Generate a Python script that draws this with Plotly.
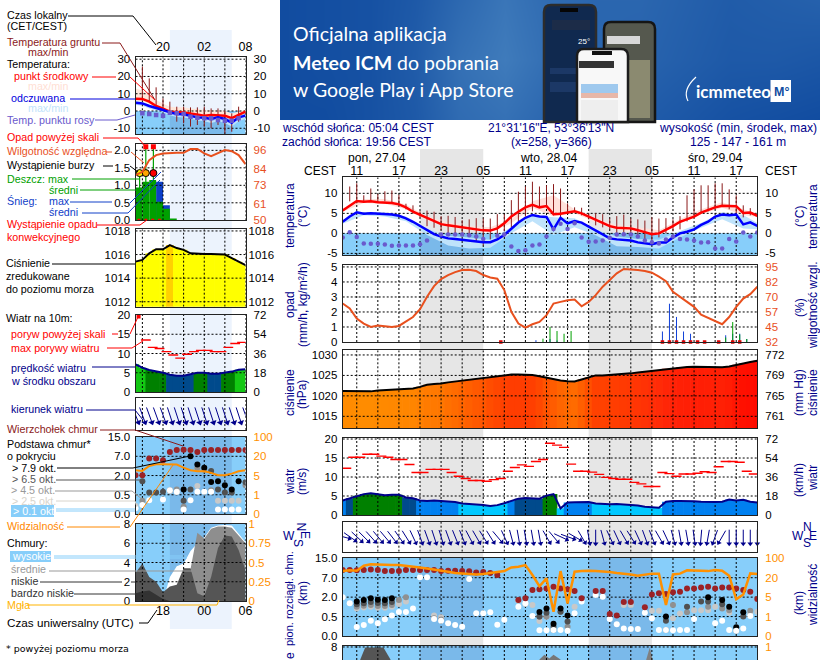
import math
import plotly.graph_objects as go

W, H = 820, 660

# hours counted from 27.04 00:00 local time
hours_l = list(range(16, 33))
hours_r = list(range(9, 69))
ticks_l = [17, 20, 23, 26, 29, 32]
ticks_r = list(range(11, 68, 3))
night_l = [21, 30]
nights_r = [[20, 29], [44, 53]]

local_text_l = {20: "20", 26: "02", 32: "08"}
utc_text_l = {20: "18", 26: "00", 32: "06"}
local_text_r = {11: "11", 17: "17", 23: "23", 29: "05", 35: "11", 41: "17", 47: "23", 53: "05", 59: "11", 65: "17"}

# ---------- small meteogram (left) ----------
temp_mid_l = [7.1, 7, 5.4, 2.9, 1.35, -.4, -.6, -.8, -1.5, -2.3, -2.7, -2.3, -2.7, -2.7, -4.2, -2.3, -.4]
temp_felt_l = [4.8, 4.4, 2.9, 1.9, .6, -.8, -1.7, -1.9, -2.9, -3.7, -3.9, -4.6, -3.7, -4.6, -6.8, -3.7, -2.7]
temp_mid_hi_l = [13, 11.8, 9.3, 6.4, 4.4, 2.5, 2.2, 2.1, 1.5, 1.2, .6, .6, .6, .2, -1.4, -.4, .6]
temp_mid_lo_l = [6, 5.8, 4.2, 1.9, .4, -1.2, -1.5, -1.7, -2.4, -3.2, -3.6, -3.4, -3.6, -3.6, -5.2, -3.4, -1.2]
temp_felt_hi_l = [6, 5.4, 3.8, 2.6, 1.2, 0, -1, -1.2, -2.2, -3, -3.2, -3.8, -3, -3.8, -6, -3, -2]
temp_felt_lo_l = [3.5, 3, 1.5, 0, -1, -2.5, -3.5, -3.8, -4.5, -5.5, -6, -7, -6, -7, -9, -6, -4.5]
dew_l = [None, -1.35, -1.75, -2.3, -2.7, -1, -1.35, -1.75, -3.3, -3.9, -4.2, -4.2, -5.2, -5.6, -5.6, -4.2, None]
ground_hi_l = [None, 25.7, 18.9, 13.7, 7.3, 5.4, 2.5, 2.5, 2.1, 2.1, 2.5, 1.5, 1.5, .2, -1.4, 2.5, 0]
ground_lo_l = [None, 6.4, 5.4, 3.5, .6, -2.3, -6.2, -7.1, -9, -8.1, -9, -10, -8.1, -13, -12, -6.2, -2.3]

rain_hours_l = [16, 17, 18, 19, 20, 21]
rain_mean_l = [.94, 1.1, 1.15, .53, .33, .05]
snow_mean_l = [0, 0, 0, 1.1, .43, 0]
rain_max_hours_l = [16.6, 17.5, 18.6]
rain_max_l = [1.35, 2.1, 2.1]
storm_hours_l = [16.6, 17.5, 18.6]
storm_level_l = [1.35, 1.35, 1.35]
over_scale_hours_l = [17.5, 18.6]
over_scale_l = [2.1, 2.1]
convective_hours_l = [16.5, 17.5, 18.5, 19.5]
humidity_l = [79.7, 81.9, 89.6, 92.9, 94, 94.4, 94.4, 94.4, 96.9, 96.9, 94, 92.2, 94, 96.2, 95.5, 92.9, 87]

pressure_l = [1015.4, 1015.55, 1016.1, 1016.45, 1016.45, 1016.8, 1016.55, 1016.4, 1016.1, 1016.05, 1016.05, 1016.05, 1016.05, 1016, 1015.7, 1015.4, 1015.1]

wind_l = [7.2, 6.3, 5.7, 5.4, 5, 4.5, 4.25, 4.25, 4.6, 5, 5, 4.75, 4.75, 5, 5.3, 5.8, 5.9]
gust_l = [None, 13.5, 11.6, 11.3, 10.5, 9.6, 8.8, 9.8, 10.5, 10.8, 10.8, 10.5, 10.5, 11.6, 12.6, 12.9]
gust_over_hours_l = [16.45]
gust_over_l = [19.6]
wind_dir_l = [338, 340, 340, 340, 340, 342, 342, 342, 342, 342, 342, 342, 342, 342, 342, 342, 340]

cloud_top_l = [2.02, 2.02, 2.88, 2.88, 2.8, 3.22, 3.33, 3.34, 3.33, 3.22, 3.33, 3.33, 3.33, 3.33, 3.33, 3.33, 3.33]
visibility_l = [2.28, 2.24, 2.5, 2.59, 2.59, 2.59, 2.57, 2.41, 2.28, 2.22, 2.22, 2.14, 2.02, 2.02, 2.1, 2.22, 2.28]
base_white_h_l = [16, 17, 18, 20, 21, 22, 23, 24, 25, 26, 27, 28, 29, 30, 31]
base_white_l = [.3, .47, .72, .76, 1.24, 1.16, .24, .72, 1.16, 1.16, 1.16, .24, .24, .24, .24]
base_light_h_l = [16, 21, 22, 25, 28, 29, 30, 31]
base_light_l = [.41, 1.2, 1.15, 1.46, .69, .69, .69, .69]
base_grey_h_l = [17, 21, 22, 23, 25, 26, 27, 32]
base_grey_l = [.69, 1.24, 1.28, .38, 2.4, 2.3, 1.24, 1.5]
base_dark_h_l = [17, 18, 19, 20, 23, 24, 27, 28, 29, 30, 32]
base_dark_l = [1.7, 1.12, 1.12, 1.16, .69, 1.28, 2.24, 1.28, 1.12, 1.12, 1.65]
base_black_h_l = [23, 24, 25, 26, 27, 28, 29, 30, 31]
base_black_l = [1.28, 3.0, 2.57, 2.41, 1.67, 1.7, 1.5, 1.28, 1.7]

cloud_high_l = [0, 0, 0, 0, 0, 2.5, 3.6, 3.9, 5.2, 6.0, 6.6, 7.6, 7.85, 7.9, 7.85, 7, 6.1]
cloud_mid_l = [0, 0, 0, 0, 0, 0, 0, 3.3, 3.3, 7.1, 6.5, 7.5, 7.75, 7.75, 7.6, 6.8, 6.0]
cloud_low_l = [2.9, 3.9, 2.5, 2, .9, 1.5, 1.7, 3.4, 3.4, .8, .5, 2.5, 5.5, 6.8, 6.7, 5.3, 3.2]
cloud_vlow_l = [.8, 1, 1.1, .65, .2, 0, 0, 0, 0, 0, 0, 0, 0, 0, 0, 0, 0]
fog_hours_l = [28, 29, 30, 31]
fog_l = [.14, .14, .14, .14]

# ---------- big meteogram (right) ----------
temp_mid_r = [5.7, 6.8, 8.1, 7.9, 8.0, 7.8, 7.75, 7.6, 7.25, 6.5, 5.4, 4.6, 3.7, 3.0, 2.3, 2.0, 1.75, 1.4, 1.2, .9, .75, .7, 1.25, 2.5, 4.2, 5.4, 6.5, 7.1, 6.5, 6.8,
              4.8, 4.9, 5.2, 5.5, 5, 4.2, 3.3, 2.5, 1.8, 1.4, 1.25, 1.25, .8, .3, -.2, 0, .8, 1.8, 2.9, 3.6, 4.2, 5.2, 5.8, 6.5, 6.9, 6.9, 6.8, 5.1, 5.2, 4.4]
temp_felt_r = [2.9, 4.2, 5.25, 4.9, 5, 4.9, 4.8, 4.7, 4.4, 3.75, 2.9, 1.8, .8, -.2, -.8, -1.25, -1.4, -1.6, -1.9, -2.1, -2.2, -2.2, -1.5, -.4, 1.25, 2.7, 3.9, 4.6, 4.2, 4.1,
               1, 3.9, 2.5, 3.1, 2.7, 1.7, .6, -.4, -1.25, -1.5, -1.7, -1.8, -2.25, -2.5, -2.7, -2.3, -2.3, -1, 0, .4, 1, 2.1, 2.9, 4.2, 4.7, 4.5, 4.7, 2.25, 2.75, 1.9]
band_hours_r = [9, 12, 15, 18, 21, 24, 27, 30, 33, 36, 39, 42, 45, 48, 51, 54, 57, 60, 63, 66, 68]
temp_mid_hi_r = [6.2, 8.6, 8.6, 7.2, 4.2, 2.7, 1.8, 1.5, 3.5, 8, 9.5, 6, 3.8, 2, 1.5, .8, 3.5, 6, 7.8, 6, 4.8]
temp_mid_lo_r = [5.4, 7.6, 7.4, 6, 3.2, 1.6, .8, .4, 2.5, 6.4, 4.2, 5, 2.8, .9, .4, -.5, 2.5, 4.8, 6.4, 4.6, 4]
temp_felt_hi_r = [3.4, 5.3, 5.2, 4.2, 1.2, -.6, -1, -1.6, 1.6, 4.6, 4, 3.8, 1, -.8, -1.4, -1.6, .6, 2.6, 5.3, 4.6, 2.6]
temp_felt_lo_r = [2.4, 4.5, 4.2, 3, -.4, -3, -3.8, -3.6, 0, 3, -.4, 1.5, -.5, -3.2, -3.4, -3.8, -1, 1.4, 3.5, 1.2, 1]
dew_r = [-1, .3, -.9, -2.5, -2.6, -2.6, -2.8, -3.1, -3, -3, -3, -2.7, -1.75, None, -.3, -.3, -.3, -.3, -.5, -.8, -1.4, None, -.6, -.3, -3.25, -4.4, -4.2, -3, -2.8, -.8,
         1.1, 2.4, 1.1, 2.5, -1, -2.1, -2, -1.8, -1.1, -.3, -.25, -.3, -.8, -1.8, -2.2, -2.5, -1.5, -.8, -1.4, -1.5, -1.8, -2.3, -2.2, -3.75, -3.8, -1.4, -2, .2, -.8, .2]
ground_hours_r = list(range(10, 68))
ground_hi_r = [11.7, 12.5, 9.5, 11.2, 9.8, 10.5, 10.7, 9.6, 7.4, 7, 5.5, 5.7, 5.4, 4.3, 4.4, 4.1, 3.3, 3.5, 3.8, 3.7, 3.7, 4.8, 4.8, 8.3, 10.4, 11.7, 12.9, 11.7, 12,
               12.3, 11.2, 7.5, 6.5, 6.4, 5, 5, 4.8, 3.7, 4.3, 4.7, 3.7, 3.5, 3.2, 4, 3.7, 3.8, 3.5, 4.3, 9.5, 11, 12, 12, 12.5, 12.5, 11, 9.5, 7, 6.3]
ground_lo_r = [8, 7.5, 8, 8, 8, 8, 7.6, 7.2, 6, 4.9, 4, 1.8, 1.4, .8, -.5, -.5, -.7, -.8, -2, -3, -1.5, -.5, .5, 1.5, 3, 4.2, 5.5, 6.5, 6.8,
               4.5, 4, 5, 5.5, 4.5, 3.5, 2, 1.5, 1, -.5, -.5, -.5, -1, -1.5, -2.5, -1, 0, .5, 1, 3, 4, 5, 5.5, 6, 7, 6, 5, 4, 4.5]

humidity_r = [64.3, 60.1, 51.7, 47.5, 44.6, 45.8, 45.2, 44.6, 45.5, 48.9, 53, 59.5, 70, 78.9, 84.8, 88.2, 90.7, 92.4, 92.7, 91.6, 88.2, 86.2, 85.1, 75.6, 57.3, 47.5, 44, 46.9, 48.9, 54.5,
              64.3, 65.7, 67.1, 67.7, 62, 65.7, 71.3, 78.4, 84, 89.6, 93.3, 93, 92.4, 91.6, 90.2, 86.8, 83.1, 74.2, 69.9, 66.3, 61.5, 55, 52.5, 49.4, 46.9, 53, 61.5, 68.5, 72.2, 78.4]
snow_hours_r = [36.5, 38.5, 39.5, 54.5, 55.5, 56.5, 57.5, 58.5, 63.5, 64.5, 65.5, 66.5]
snow_max_r = [.12, .2, .1, .7, 2.55, 1.67, .7, .55, .45, .55, .55, .2]
rain_hours_r = [37.5, 38.5, 39.5, 40.5, 41.5, 63.5, 64.5, 65.5, 66.5]
rain_max_r = [.22, 1.0, .73, .55, .73, .3, 1.33, .5, .2]
convective_hours_r = [31.5, 54.5, 55.5, 56.5, 57.5, 58.5, 59.5, 60.5, 62.5, 64.5, 65.5]
convective_level_r = [0] * 11

pressure_r = [1021.2, 1021.2, 1021.1, 1021.1, 1021.1, 1021.3, 1021.4, 1021.5, 1021.55, 1021.7, 1021.8, 1022.2, 1022.7, 1022.9, 1023, 1023.3, 1023.5, 1023.75, 1024, 1024.2, 1024.3, 1024.6, 1024.8, 1025, 1025.2, 1025.2, 1025.2, 1025.1, 1024.8, 1024.4,
              1024.1, 1023.75, 1023.6, 1023.5, 1024, 1024.5, 1025, 1025, 1025.1, 1025.2, 1025.4, 1025.5, 1025.7, 1025.9, 1026.1, 1026.3, 1026.6, 1026.8, 1027, 1027.05, 1027.1, 1027.1, 1027.05, 1027, 1027, 1027.2, 1027.6, 1028, 1028.3, 1028.6]

wind_r = [3.8, 4.4, 5.1, 5.5, 5.7, 5.5, 5.2, 5.3, 5.3, 4.6, 4.4, 3.8, 3.7, 3.8, 3.7, 3.5, 3.4, 3, 2.9, 2.7, 2.6, 2.4, 2.6, 3.1, 3.7, 4.3, 4.5, 4.4, 4.3, 5.1,
          5.5, 1.75, 3.3, 3.35, 3.4, 3.4, 3.0, 2.9, 2.8, 2.9, 2.8, 2.7, 2.5, 2.2, 2.1, 1.9, 3.5, 3.7, 3.7, 3.7, 3.6, 3.5, 3.4, 3.4, 3.5, 4.1, 3.8, 4, 3.5, 3.3]
gust_r = [12.3, 15.2, 15.2, 16, 16, 15.5, 15.2, 14.6, 14.6, 13.3, 11.2, 11.2, 12, 12, 12, 11.2, 10.2, 9.6, 9.1, 9.1, 8.9, 9.3, 9.6, 11.5, 12.5, 13.2, 12.8, 14.1, 14.6, 18.9,
          18.4, 17.8, 13.4, 11.5, 11.5, 11.3, 10.7, 9.9, 9.6, 9.4, 9.4, 8.6, 8.2, 7.5, 7.5, 11.2, 10.9, 10.2, 10.8, 10.8, 11, 11.4, 11.2, 12.7, 14.1, 14.1, 13.9, 11.5, 10.8]
wind_dir_r = [285, 305, 313, 315, 318, 320, 320, 322, 325, 328, 335, 340, 340, 342, 343, 340, 338, 338, 332, 330, 328, 328, 320, 335, 345, 350, 350, 350, 350, 330,
              320, 295, 290, 300, 330, 350, 0, 345, 335, 335, 330, 328, 335, 340, 338, 330, 335, 345, 350, 350, 352, 5, 10, 20, 30, 0, 0, 0, 0, 0]

cloud_top_r = [3.4, 3.4, 3.38, 3.4, 3.42, 3.4, 3.34, 3.34, 3.34, 3.4, 3.4, 3.4, 3.4, 3.4, 3.34, 3.36, 3.36, 3.34, 3.33, 3.27, 3.29, 3.24, 3.14,
               None, None, 1.85, 1.94, 2.37, 2.4, 2.45, 2.54, 2.45, 2.4, 2.32, 1.94, None, 2.32, 2.32, 1.13, 1.05, 1.75, 1.75, None,
               1.48, 2.13, 2.2, 2.16, 2.25, 2.28, 2.44, 2.44, 2.5, 2.54, 2.45, 2.5, 2.5, 2.45, 2.37, 2.28, 1.9]
visibility_r = [3.34, 3.38, 3.36, 3.62, 3.69, 3.67, 3.65, 3.65, 3.65, 3.62, 3.58, 3.53, 3.48, 3.43, 3.36, 3.31, 3.24, 3.21, 3.17, 3.17, 3.19, 3.24, 3.28, 3.34, 3.53, 3.57, 3.65, 3.14, 2.56, 2.97,
                1.25, 3.34, 1.68, 3.31, 3.34, 3.36, 3.34, 3.33, 3.29, 3.24, 3.21, 3.16, 3.1, 3.14, 3.21, 3.21, 1.6, 3.17, 3.21, 3.38, 3.36, 3.34, 3.34, 3.4, 3.36, 3.1, 1.89, 2.14, 3.22, 3.19]
base_white_r = [2.0, 1.68, .46, .57, .79, .65, .86, 1.06, 1.23, 1.23, 1.42, 3.02, 3.02, .87, .79, .65, .57, .48, 2.93, 1.17, 1.17, 1.22, .58, .84, None, 1.51, 1.68, 1.03, .29, .29,
                .31, .31, .27, 1.17, 1.77, None, 2.11, 2.02, .87, .6, .39, .36, .36, 1.2, .91, .31, .31, .29, .31, .31, .87, None, None, .65, .79, .31, .27, .39, 1.03, None]
base_light_h_r = [11, 12, 13, 14, 15, 16, 17, 18, 22, 23, 34, 35, 36, 37, 38, 42, 49, 50, 53, 54, 56, 57, 59, 60, 61, 62, 64, 67, 68]
base_light_r = [1.42, 1.47, 1.5, 1.45, 1.45, 1.5, 1.65, 1.77, 1.05, .97, 1.82, 1.65, 1.6, .77, .99, 1.51, 1.6, 1.6, 1.3, 1.3, .91, 1.16, 1.33, 1.33, 1.33, 1.51, 1.2, 1.16, 1.25]
base_grey_h_r = [11, 12, 13, 14, 15, 16, 17, 18, 22, 23, 37, 38, 39, 40, 41, 55, 56, 58, 61, 63, 64, 65, 67]
base_grey_r = [1.51, 1.56, 1.6, 1.55, 1.55, 1.6, 1.85, 1.99, .91, .85, .99, 1.0, .31, 1.25, .48, .31, 1.6, 1.22, 1.51, 1.42, 1.33, .27, 1.3]
base_dark_h_r = [11, 12, 13, 14, 15, 16, 37, 38, 39, 40, 41, 55, 58, 60, 61, 63, 66]
base_dark_r = [1.63, 1.68, 1.75, 1.7, 1.68, 1.75, 1.0, 1.2, .48, 1.25, .74, .79, 1.5, 1.77, 1.77, 1.63, 1.0]
base_black_h_r = [11, 12, 13, 14, 15, 16, 37, 38, 39, 40, 41, 55, 61, 63, 64, 65, 66]
base_black_r = [1.77, 1.85, 1.94, 1.87, 1.85, 1.94, 1.23, 1.42, .63, 1.42, 1.05, 1.01, 1.99, 1.85, 1.5, .45, 1.22]

cloud_low_h_r = [11.5, 12.2, 14.8, 15.8]
cloud_low_r = [6.7, 7.95, 7.95, 6.7]
cloud_low2_h_r = [37, 37.7, 38.4, 39, 40]
cloud_low2_r = [6.7, 7.2, 6.8, 7.2, 6.7]
cloud_mid_h_r = [52.2, 52.7, 53.1]
cloud_mid_r = [6.7, 7.95, 6.7]

SKY = "#87CEFA"
SKY_NIGHT = "#7AB9EA"
NAVY = "#00008B"
HUM = "#E8501E"
VIS = "#FF9000"
BROWN = "#8B1A1A"
PURPLE = "#6A5ACD"

fig = go.Figure()
layout_axes = {}


def add_panel(n, xbox, ybox, xr, yr, xticks, yticks, ytext, xtext=None, xside="bottom", x_off=0,
              rrange=None, rticks=None, rtext=None, rcolor="black", right_off=7, size=11.5):
    labels = [xtext.get(v, "") for v in xticks] if xtext else None
    layout_axes[f"xaxis{n}"] = dict(
        domain=[xbox[0] / W, xbox[1] / W], range=xr, anchor=f"y{n}", side=xside, automargin=False,
        tickmode="array", tickvals=xticks, ticktext=labels, showticklabels=bool(xtext),
        showgrid=False, zeroline=False, showline=True, mirror=True, linecolor="#222222", linewidth=1,
        ticks="", ticklabelstandoff=x_off, tickfont=dict(size=size + 1, color="black"), layer="above traces")
    layout_axes[f"yaxis{n}"] = dict(
        domain=[1 - ybox[1] / H, 1 - ybox[0] / H], range=yr, anchor=f"x{n}", automargin=False,
        tickmode="array", tickvals=yticks, ticktext=ytext, showgrid=False, zeroline=False,
        showline=True, mirror=True, linecolor="#222222", linewidth=1, ticks="",
        ticklabelstandoff=2, tickfont=dict(size=size, color="black"), layer="above traces")
    if rrange is not None:
        layout_axes[f"yaxis{n + 20}"] = dict(
            domain=[1 - ybox[1] / H, 1 - ybox[0] / H], range=rrange, anchor=f"x{n}", automargin=False,
            overlaying=f"y{n}", side="right", tickmode="array", tickvals=rticks, ticktext=rtext,
            showgrid=False, zeroline=False, showline=False, ticks="", ticklabelstandoff=right_off,
            tickfont=dict(size=size, color=rcolor))
        fig.add_trace(go.Scatter(x=[xr[0]], y=[rrange[0]], mode="none", xaxis=f"x{n}", yaxis=f"y{n + 20}"))


def tr(n, right=False):
    return dict(xaxis=f"x{n}", yaxis=f"y{n + 20 if right else n}")


def add_grid(n, xticks, yticks, xr, yr):
    xs, ys = [], []
    for v in xticks:
        xs += [v, v, None]
        ys += [yr[0], yr[1], None]
    for v in yticks:
        xs += [xr[0], xr[1], None]
        ys += [v, v, None]
    fig.add_trace(go.Scatter(x=xs, y=ys, mode="lines", line=dict(color="black", width=1, dash="2px,2px"), **tr(n)))


def add_line(n, x, y, color, width=2.5, right=False):
    fig.add_trace(go.Scatter(x=x, y=y, mode="lines", line=dict(color=color, width=width), connectgaps=True, **tr(n, right)))


def add_band(n, x, hi, lo, color):
    fig.add_trace(go.Scatter(x=list(x) + list(x)[::-1], y=list(hi) + list(lo)[::-1], mode="none",
                             fill="toself", fillcolor=color, **tr(n)))


def add_dots(n, x, y, color, size=6, symbol="circle", line=None, clip=True):
    mk = dict(color=color, size=size, symbol=symbol, line=dict(width=0))
    if line:
        mk["line"] = dict(color=line, width=1)
    fig.add_trace(go.Scatter(x=x, y=y, mode="markers", marker=mk, cliponaxis=clip, **tr(n)))


def add_sticks(n, x, lo, hi, color, width=1):
    xs, ys = [], []
    for h, a, b in zip(x, lo, hi):
        if a is None or b is None:
            continue
        xs += [h, h, None]
        ys += [a, b, None]
    fig.add_trace(go.Scatter(x=xs, y=ys, mode="lines", line=dict(color=color, width=width), **tr(n)))


def add_gusts(n, x, y, size):
    fig.add_trace(go.Scatter(x=x, y=y, mode="markers",
                             marker=dict(symbol="line-ew", size=size, line=dict(color="#FF0000", width=1.4)), **tr(n)))


def add_arrows(n, hours, dirs, length, px_per_hour, mid, head):
    xs, ys, hx, hy, ang = [], [], [], [], []
    for h, d in zip(hours, dirs):
        a = math.radians(d + 180)
        dx = math.sin(a) * length / 2 / px_per_hour
        dy = math.cos(a) * length / 2
        xs += [h - dx, h + dx, None]
        ys += [mid - dy, mid + dy, None]
        hx.append(h + dx)
        hy.append(mid + dy)
        ang.append(d + 180)
    fig.add_trace(go.Scatter(x=xs, y=ys, mode="lines", line=dict(color=NAVY, width=1), cliponaxis=False, **tr(n)))
    fig.add_trace(go.Scatter(x=hx, y=hy, mode="markers", cliponaxis=False,
                             marker=dict(symbol="triangle-up", angle=ang, size=head, color=NAVY, line=dict(width=0)), **tr(n)))


def add_pressure_bars(n, x, y, scale, cmin, cmax):
    fig.add_trace(go.Bar(x=x, y=y, width=1.1, marker=dict(color=y, colorscale=scale, cmin=cmin, cmax=cmax,
                                                          line=dict(width=0)), **tr(n)))


def add_wind_bars(n, x, y):
    fig.add_trace(go.Bar(x=x, y=y, width=1.1, marker=dict(color=y, colorscale=wind_scale, cmin=0, cmax=8,
                                                          line=dict(width=0)), **tr(n)))


def add_bars(n, x, y, color, width):
    fig.add_trace(go.Bar(x=x, y=y, width=width, marker=dict(color=color, line=dict(width=0)), **tr(n)))


def add_area(n, x, y, color):
    fig.add_trace(go.Scatter(x=x, y=y, mode="none", fill="tozeroy", fillcolor=color, **tr(n)))


def rect_domain(n, color, y0=0, y1=1, yref=None):
    fig.add_shape(type="rect", xref=f"x{n} domain", yref=yref or f"y{n} domain", x0=0, x1=1, y0=y0, y1=y1,
                  fillcolor=color, line_width=0, layer="below")


def night_rect(n, span, color, y0=0, y1=1, yref=None):
    fig.add_shape(type="rect", xref=f"x{n}", yref=yref or f"y{n} domain", x0=span[0], x1=span[1], y0=y0, y1=y1,
                  fillcolor=color, line_width=0, layer="below")


def text(x, y, s, color="black", size=11, anchor="left", angle=0, font=None):
    f = dict(color=color, size=size)
    if font:
        f["family"] = font
    fig.add_annotation(xref="paper", yref="paper", x=x / W, y=1 - y / H, text=s, showarrow=False, font=f,
                       xanchor=anchor, yanchor="middle", textangle=angle, borderpad=0)


def leader(points, color, width=1):
    for (a, b), (c, d) in zip(points[:-1], points[1:]):
        fig.add_shape(type="line", xref="paper", yref="paper", x0=a / W, x1=c / W, y0=1 - b / H, y1=1 - d / H,
                      line=dict(color=color, width=width), layer="above")


def box(x0, y0, x1, y1, color, line=None, lw=1):
    fig.add_shape(type="rect", xref="paper", yref="paper", x0=x0 / W, x1=x1 / W, y0=1 - y0 / H, y1=1 - y1 / H,
                  fillcolor=color, line=dict(color=line or color, width=lw if line else 0), layer="above")


def phone(x0, y0, x1, y1, color, frame, r=7):
    def px(x, y):
        return f"{x / W} {1 - y / H}"
    path = (f"M {px(x0 + r, y0)} L {px(x1 - r, y0)} Q {px(x1, y0)} {px(x1, y0 + r)} L {px(x1, y1)} "
            f"L {px(x0, y1)} L {px(x0, y0 + r)} Q {px(x0, y0)} {px(x0 + r, y0)} Z")
    fig.add_shape(type="path", xref="paper", yref="paper", path=path, fillcolor=color,
                  line=dict(color=frame, width=2.5), layer="above")


wind_scale = [[0, "#00C8FF"], [.4, "#00C8FF"], [.4, "#0080F0"], [.525, "#0080F0"], [.525, "#004A8C"], [.606, "#004A8C"],
              [.606, "#008000"], [.719, "#008000"], [.719, "#14C814"], [1, "#14C814"]]
pressure_scale_r = [[0, "#FF9800"], [.33, "#FF7800"], [.44, "#FF6000"], [.56, "#FF4000"], [.72, "#FF2808"], [.89, "#FF1000"], [1, "#FF0800"]]
pressure_scale_l = [[0, "#FFFF00"], [.94, "#FFFF00"], [.94, "#FFD000"], [1, "#FFD000"]]

XL = [135.5, 245.5]
XR = [342.7, 757.3]
xr_l = [16, 32]
xr_r = [9, 68]

# night columns behind everything
fig.add_shape(type="rect", xref="x16", yref="paper", x0=night_l[0], x1=night_l[1], y0=1 - 629 / H, y1=1 - 30 / H,
              fillcolor="#ECF3FD", line_width=0, layer="below")
for span in nights_r:
    fig.add_shape(type="rect", xref="x8", yref="paper", x0=span[0], x1=span[1], y0=0, y1=1 - 149 / H,
                  fillcolor="#E6E6E6", line_width=0, layer="below")

# ---------- left panels ----------
yr = [-13.5, 31.1]
add_panel(16, XL, [57.3, 134.3], xr_l, yr, ticks_l, [30, 20, 10, 0, -10], ["30", "20", "10", "0", "-10"],
          xtext=local_text_l, xside="top", rrange=yr, rticks=[30, 20, 10, 0, -10], rtext=["30", "20", "10", "0", "-10"])
rect_domain(16, SKY, y0=yr[0], y1=0, yref="y16")
night_rect(16, night_l, SKY_NIGHT, y0=yr[0], y1=0, yref="y16")
add_band(16, hours_l, temp_mid_hi_l, temp_mid_lo_l, "#FFE6DA")
add_band(16, hours_l, temp_felt_hi_l, temp_felt_lo_l, "#BFE3FB")
add_grid(16, ticks_l, [30, 20, 10, 0, -10], xr_l, yr)
add_sticks(16, hours_l, ground_lo_l, ground_hi_l, BROWN)
add_line(16, hours_l, temp_mid_l, "#FF0000")
add_line(16, hours_l, temp_felt_l, "#0000FF")
add_dots(16, hours_l, dew_l, PURPLE, size=4.5, symbol="square")

yr = [0, 2.19]
rr = [50, 100.4]
add_panel(2, XL, [143.7, 220.3], xr_l, yr, ticks_l, [0, .5, 1, 1.5, 2], ["0.0", "0.5", "1.0", "1.5", "2.0"],
          rrange=rr, rticks=[50, 61, 73, 84, 96], rtext=["50", "61", "73", "84", "96"], rcolor=HUM)
add_bars(2, [h + .5 for h in rain_hours_l], snow_mean_l, "#1040C8", 1)
add_bars(2, [h + .5 for h in rain_hours_l], rain_mean_l, "#00A000", 1)
add_grid(2, ticks_l, [.5, 1, 1.5, 2], xr_l, yr)
add_sticks(2, rain_max_hours_l, [0] * 3, rain_max_l, "#00A000", 1.2)
add_dots(2, convective_hours_l, [0] * 4, "#FF0000", size=3, symbol="square")
add_dots(2, over_scale_hours_l, over_scale_l, "#FF0000", size=5, symbol="square")
add_dots(2, storm_hours_l, storm_level_l, ["#FFF000", "#FFA500", "#FF0000"], size=7, line="black")
add_line(2, hours_l, humidity_l, HUM, 2, right=True)

yr = [1011.58, 1018.14]
add_panel(3, XL, [229.3, 306.7], xr_l, yr, ticks_l, [1012, 1014, 1016, 1018], ["1012", "1014", "1016", "1018"],
          rrange=yr, rticks=[1012, 1014, 1016, 1018], rtext=["1012", "1014", "1016", "1018"], right_off=2)
add_pressure_bars(3, hours_l, pressure_l, pressure_scale_l, 1012, 1017)
add_grid(3, ticks_l, [1012, 1014, 1016, 1018], xr_l, yr)
add_line(3, hours_l, pressure_l, "black", 2)

yr = [0, 20]
rr = [0, 72]
add_panel(4, XL, [315, 392], xr_l, yr, ticks_l, [0, 5, 10, 15, 20], ["0", "5", "10", "15", "20"],
          rrange=rr, rticks=[0, 18, 36, 54, 72], rtext=["0", "18", "36", "54", "72"])
add_wind_bars(4, hours_l, wind_l)
add_grid(4, ticks_l, [5, 10, 15], xr_l, yr)
add_gusts(4, [h + .5 for h in hours_l[:-1]], gust_l, 7)
add_dots(4, gust_over_hours_l, gust_over_l, "#FF0000", size=4, symbol="square")
add_line(4, hours_l, wind_l, NAVY, 2)

yr = [0, 31.7]
add_panel(5, XL, [398.3, 430], xr_l, yr, ticks_l, [], [])
add_grid(5, ticks_l, [], xr_l, yr)
add_arrows(5, hours_l, wind_dir_l, 16, 6.87, 15, 6)

base_ticks = [0, 1, 2, 3, 4]
yr = [0, 4.02]
add_panel(6, XL, [436.7, 514], xr_l, yr, ticks_l, base_ticks, ["0.0", "0.5", "2.0", "7.0", "15.0"],
          rrange=yr, rticks=base_ticks, rtext=["0", "1", "5", "20", "100"], rcolor=VIS)
rect_domain(6, SKY)
night_rect(6, night_l, SKY_NIGHT)
add_grid(6, ticks_l, [1, 2, 3], xr_l, yr)
add_dots(6, base_light_h_l, base_light_l, "#C8C8C8")
add_dots(6, base_grey_h_l, base_grey_l, "#909090")
add_dots(6, base_dark_h_l, base_dark_l, "#505050")
add_dots(6, base_black_h_l, base_black_l, "black")
add_dots(6, base_white_h_l, base_white_l, "white")
add_dots(6, hours_l, cloud_top_l, "#9B2226")
add_line(6, hours_l, visibility_l, VIS, 2)

yr = [0, 8]
rr = [0, 1]
add_panel(7, XL, [524, 601], xr_l, yr, ticks_l, [0, 2, 4, 6, 8], ["0", "2", "4", "6", "8"], xtext=utc_text_l, x_off=-2,
          rrange=rr, rticks=[0, .25, .5, .75, 1], rtext=["0", "0.25", "0.5", "0.75", "1"], rcolor=VIS, right_off=2)
rect_domain(7, SKY)
night_rect(7, night_l, SKY_NIGHT)
add_area(7, hours_l, cloud_high_l, "white")
add_area(7, hours_l, cloud_mid_l, "#8E8E8E")
add_area(7, hours_l, cloud_low_l, "#555555")
add_area(7, hours_l, cloud_vlow_l, "#333333")
add_grid(7, ticks_l, [2, 4, 6], xr_l, yr)
add_bars(7, fog_hours_l, [v * 8 for v in fog_l], "#FFB300", .42)

# ---------- right panels ----------
yr = [-5.4, 14]
add_panel(8, XR, [177.3, 255], xr_r, yr, ticks_r, [-5, 0, 5, 10], ["-5", "0", "5", "10"], xtext=local_text_r, xside="top", x_off=-4,
          rrange=yr, rticks=[-5, 0, 5, 10], rtext=["-5", "0", "5", "10"])
rect_domain(8, SKY, y0=yr[0], y1=0, yref="y8")
for span in nights_r:
    night_rect(8, span, SKY_NIGHT, y0=yr[0], y1=0, yref="y8")
add_band(8, band_hours_r, temp_mid_hi_r, temp_mid_lo_r, "#FFE0DA")
add_band(8, band_hours_r, temp_felt_hi_r, temp_felt_lo_r, "#BFE3FB")
add_grid(8, ticks_r, [-5, 0, 5, 10], xr_r, yr)
add_sticks(8, ground_hours_r, ground_lo_r, ground_hi_r, BROWN)
add_line(8, hours_r, temp_mid_r, "#FF0000")
add_line(8, hours_r, temp_felt_r, "#0000FF")
add_dots(8, hours_r, dew_r, PURPLE, size=4.5)

yr = [0, 5.15]
rr = [32, 96.9]
add_panel(9, XR, [264.7, 342], xr_r, yr, ticks_r, [0, 1, 2, 3, 4, 5], ["0", "1", "2", "3", "4", "5"],
          rrange=rr, rticks=[32, 44.6, 57.2, 69.8, 82.4, 95], rtext=["32", "45", "57", "70", "82", "95"], rcolor=HUM)
add_grid(9, ticks_r, [1, 2, 3, 4, 5], xr_r, yr)
add_sticks(9, snow_hours_r, [0] * 12, snow_max_r, "#1040D8")
add_sticks(9, rain_hours_r, [0] * 9, rain_max_r, "#00A000")
add_dots(9, convective_hours_r, convective_level_r, "#E00000", size=3.5, symbol="square", clip=False)
add_line(9, hours_r, humidity_r, HUM, 2, right=True)

yr = [1012.07, 1031.14]
add_panel(10, XR, [350.3, 428.3], xr_r, yr, ticks_r, [1015, 1020, 1025, 1030], ["1015", "1020", "1025", "1030"],
          rrange=yr, rticks=[1015, 1020, 1025, 1030], rtext=["761", "765", "769", "772"])
add_pressure_bars(10, hours_r, pressure_r, pressure_scale_r, 1020, 1029)
add_grid(10, ticks_r, [1015, 1020, 1025, 1030], xr_r, yr)
add_line(10, hours_r, pressure_r, "black", 2)

yr = [0, 20.35]
rr = [0, 73.26]
add_panel(11, XR, [437.7, 515], xr_r, yr, ticks_r, [0, 5, 10, 15, 20], ["0", "5", "10", "15", "20"],
          rrange=rr, rticks=[0, 18, 36, 54, 72], rtext=["0", "18", "36", "54", "72"])
add_wind_bars(11, hours_r, wind_r)
add_grid(11, ticks_r, [5, 10, 15, 20], xr_r, yr)
add_gusts(11, [h + .5 for h in hours_r[:-1]], gust_r, 7.2)
add_line(11, hours_r, wind_r, NAVY, 2)

yr = [0, 30]
add_panel(12, XR, [521.7, 551.7], xr_r, yr, ticks_r, [], [])
add_grid(12, ticks_r, [], xr_r, yr)
add_arrows(12, hours_r, wind_dir_r, 14, 7.02, 15, 5)

yr = [0, 4.03]
add_panel(13, XR, [557.7, 636], xr_r, yr, ticks_r, base_ticks, ["0.0", "0.5", "2.0", "7.0", "15.0"],
          rrange=yr, rticks=base_ticks, rtext=["0", "1", "5", "20", "100"], rcolor=VIS)
rect_domain(13, SKY)
for span in nights_r:
    night_rect(13, span, SKY_NIGHT)
add_grid(13, ticks_r, [1, 2, 3], xr_r, yr)
add_dots(13, base_light_h_r, base_light_r, "#C8C8C8")
add_dots(13, base_grey_h_r, base_grey_r, "#909090")
add_dots(13, base_dark_h_r, base_dark_r, "#505050")
add_dots(13, base_black_h_r, base_black_r, "black")
add_dots(13, hours_r, base_white_r, "white")
add_dots(13, hours_r, cloud_top_r, "#9B2226")
add_line(13, hours_r, visibility_r, VIS, 2.5)

yr = [6.65, 8.1]
add_panel(14, XR, [646, 660], xr_r, yr, ticks_r, [8], ["8"], rrange=[.83, 1.01], rticks=[1], rtext=["1"], rcolor=VIS)
rect_domain(14, SKY)
for span in nights_r:
    night_rect(14, span, SKY_NIGHT)
add_area(14, cloud_low_h_r, cloud_low_r, "#555555")
add_area(14, cloud_low2_h_r, cloud_low2_r, "#777777")
add_area(14, cloud_mid_h_r, cloud_mid_r, "#808080")
add_grid(14, ticks_r, [8], xr_r, yr)

# ---------- banner ----------
banner_x = [280, 325, 370, 415, 460, 505, 550, 595, 640, 685, 730, 775, 820]
banner_rows = [0, 60, 120]
banner_z = [[0, .05, .1, .25, .55, .8, .6, .5, .5, .4, .3, .35, .4],
            [0, .05, .1, .3, .7, .9, .65, .5, .45, .35, .25, .25, .2],
            [0, 0, .1, .25, .6, .7, .5, .4, .3, .2, .1, .05, 0]]
fig.add_trace(go.Heatmap(x=banner_x, y=banner_rows, z=banner_z, zsmooth="best", showscale=False, zmin=0, zmax=1,
                         colorscale=[[0, "#114CA0"], [1, "#4480BE"]], xaxis="x15", yaxis="y15", hoverinfo="skip"))
layout_axes["xaxis15"] = dict(domain=[280 / W, 1], range=[280, 820], visible=False, anchor="y15", automargin=False)
layout_axes["yaxis15"] = dict(domain=[1 - 120 / H, 1], range=[120, 0], visible=False, anchor="x15", automargin=False)

phone(544, 5, 596, 122, "#10294F", "#2C2C2C")
box(552, 20, 590, 30, "#1C2C48")
box(560, 8, 578, 12, "#050505")
box(550, 68, 590, 74, "#1C3866")
box(550, 82, 590, 92, "#1C3866")
phone(604, 22, 655, 122, "#55584E", "#151515")
box(607, 36, 640, 44, "#D8D8D8")
box(625, 60, 650, 118, "#8B8A70")
phone(577, 49, 628, 122, "#F8F8F8", "#1C1C1C")
box(592, 51, 612, 55, "#111111")
box(579, 61, 614, 68, "#333333")
box(581, 84, 618, 93, "#9FC9EE")
box(581, 93, 618, 98, "#E7B7A8")
box(581, 100, 618, 120, "#EEEEEE")
box(770.5, 80, 791, 102, "white")

text(292, 33, "Oficjalna aplikacja", "white", 19.5, font="Lato")
text(292, 62, "<b>Meteo ICM</b> do pobrania", "white", 19.5, font="Lato")
text(292, 89, "w Google Play i App Store", "white", 19.5, font="Lato")
text(577, 42, "25°", "white", 8)
text(695, 91, "<b>icmmeteo</b>", "white", 17, font="Lato")
text(781, 92, "<b>M°</b>", "#114CA0", 12.5, anchor="center", font="Liberation Sans")
fig.add_shape(type="path", xref="paper", yref="paper", layer="above", line=dict(color="white", width=1.2),
              path=f"M {696 / W} {1 - 77 / H} Q {682 / W} {1 - 90 / H} {688 / W} {1 - 101 / H}")

# ---------- headers of the big meteogram ----------
text(281, 128, "wschód słońca: 05:04 CEST", NAVY, 12)
text(281, 142, "zachód słońca: 19:56 CEST", NAVY, 12)
text(551, 128, "21°31'16\"E, 53°36'13\"N", NAVY, 12, anchor="center")
text(551, 142, "(x=258, y=366)", NAVY, 12, anchor="center")
text(738, 128, "wysokość (min, środek, max)", NAVY, 12.2, anchor="center")
text(738, 142, "125 - 147 - 161 m", NAVY, 12.2, anchor="center")
text(377, 158, "pon, 27.04", "black", 12.2, anchor="center")
text(548, 158, "wto, 28.04", "black", 12.2, anchor="center")
text(715, 158, "śro, 29.04", "black", 12.2, anchor="center")
text(320, 171, "CEST", "black", 12, anchor="center")
text(781, 171, "CEST", "black", 12, anchor="center")

for x, y, s, sz in [(290, 216, "temperatura", 12), (303, 217, "(°C)", 12),
                    (290, 305, "opad", 12), (303, 305, "(mm/h, kg/m²/h)", 12),
                    (290, 393, "ciśnienie", 12), (302, 395, "(hPa)", 12),
                    (290, 482, "wiatr", 12), (302, 482, "(m/s)", 12),
                    (289, 599, "pion. rozciągł. chm.", 11), (303, 593, "(km)", 12),
                    (290, 690, "zachmurzenie", 12),
                    (813, 217, "temperatura", 12), (800, 217, "(°C)", 12),
                    (800, 308, "(%)", 12), (813, 305, "wilgotność wzgl.", 12),
                    (799, 393, "(mm Hg)", 12), (813, 393, "ciśnienie", 12),
                    (799, 480, "(km/h)", 12), (813, 478, "wiatr", 12),
                    (799, 603, "(km)", 12), (813, 595, "widzialność", 12)]:
    text(x, y, s, NAVY, sz, anchor="center", angle=-90)

for x, y, s, a in [(289, 535.5, "W", 0), (300.5, 527, "N", 90), (298, 543, "S", 90), (305, 535, "E", 90),
                   (798, 536, "W", 0), (807, 527, "N", 0), (813, 536, "E", 0), (807, 543, "S", 0)]:
    text(x, y, s, NAVY, 12, anchor="center", angle=a)

# ---------- legend column on the left ----------
legend_rows = [
    (6, 15, "Czas lokalny", "black"), (6, 26, "(CET/CEST)", "black"),
    (6, 42, "Temperatura gruntu", BROWN), (27, 52, "max/min", BROWN),
    (6, 64, "Temperatura:", "black"), (13, 76, "punkt środkowy", "#FF0000"),
    (27, 86, "max/min", "#FFE0D4"), (10, 98, "odczuwana", "#0000DD"),
    (27, 108, "max/min", "#BFE3FB"), (6, 120, "Temp. punktu rosy", PURPLE),
    (6, 137, "Opad powyżej skali", "#FF0000"), (6, 151, "Wilgotność względna", HUM),
    (6, 165, "Wystąpienie burzy", "black"), (6, 179, "Deszcz: max", "#00A000"),
    (48, 190, "średni", "#00A000"), (6, 201, "Śnieg:", "#1040C8"),
    (48, 201, "max", "#1040C8"), (48, 212, "średni", "#1040C8"),
    (6, 224, "Wystąpienie opadu", "#FF0000"), (6, 237, "konwekcyjnego", "#FF0000"),
    (5, 263, "Ciśnienie", "black"), (5, 276, "zredukowane", "black"),
    (5, 289, "do poziomu morza", "black"), (5, 318, "Wiatr na 10m:", "black"),
    (10, 334, "poryw powyżej skali", "#FF0000"), (10, 348, "max porywy wiatru", "#FF0000"),
    (10, 368, "prędkość wiatru", NAVY), (10, 381, "w środku obszaru", NAVY),
    (10, 409, "kierunek wiatru", NAVY), (6, 429, "Wierzchołek chmur", BROWN),
    (6, 444, "Podstawa chmur*", "black"), (6, 456, "o pokryciu", "black"),
    (11, 468, "> 7.9 okt.", "black"), (11, 479, "> 6.5 okt.", "#555555"),
    (10, 490, "> 4.5 okt.", "#999999"), (11, 501, "> 2.5 okt.", "#D8D4CC"),
    (6, 526, "Widzialność", "#FF8800"), (6, 543, "Chmury:", "black"),
    (10, 569, "średnie", "#999999"), (10, 581, "niskie", "#333333"),
    (10, 593, "bardzo niskie", "#333333"), (6, 605, "Mgła", "#FFB300"),
]
for x, y, s, c in legend_rows:
    text(x, y, s, c, 10.7)
text(6, 622, "Czas uniwersalny (UTC)", "black", 11.7)
box(11, 505, 54, 517, SKY)
box(10, 551, 51, 562, SKY)
text(12, 511, "> 0.1 okt.", "white", 10.7)
text(11, 556, "wysokie", "white", 10.7)
text(5, 648, "* powyżej poziomu morza", "black", 9.5, font="DejaVu Sans")

leader([(68, 16), (133, 16), (156, 45)], "black")
leader([(102, 43), (120, 43), (155, 100)], BROWN)
leader([(92, 77), (116, 77)], "#FF0000")
leader([(130, 77), (155, 100)], "#FF0000")
leader([(70, 99), (135, 99)], "#0000DD")
leader([(95, 120), (117, 120), (135, 115)], PURPLE)
leader([(103, 138), (138, 138), (146, 147)], "#FF0000")
leader([(106, 152), (112, 152)], HUM)
leader([(131, 152), (144, 163)], HUM)
leader([(103, 166), (113, 166)], "black")
leader([(130, 166), (138, 172)], "black")
leader([(72, 179), (139, 179)], "#00A000")
leader([(80, 190), (147, 190)], "#00A000")
leader([(70, 202), (112, 202)], "#1040C8")
leader([(130, 203), (161, 172)], "#1040C8")
leader([(82, 213), (128, 213), (160, 180)], "#1040C8")
leader([(97, 225), (140, 225), (147, 220)], "#FF0000")
leader([(52, 264), (135, 264)], "black")
leader([(112, 334), (118, 334)], "#FF0000")
leader([(130, 334), (138, 317)], "#FF0000")
leader([(107, 348), (132, 348), (143, 341)], "#FF0000")
leader([(92, 367), (135, 367)], NAVY)
leader([(86, 410), (135, 410), (143, 420)], NAVY)
leader([(100, 430), (135, 430), (183, 446)], BROWN)
leader([(57, 468), (133, 468), (190, 456)], "black")
leader([(56, 480), (143, 480)], "#555555")
leader([(55, 491), (132, 491), (143, 500)], "#999999")
leader([(56, 501), (135, 501), (137, 507)], "#D8D4CC")
leader([(56, 509), (135, 509)], SKY)
leader([(56, 511), (135, 511)], SKY)
leader([(67, 527), (120, 527)], "#FF8800")
leader([(130, 527), (173, 465)], "#FF8800")
leader([(54, 556), (187, 556)], SKY)
leader([(54, 558), (187, 558)], SKY)
leader([(49, 571), (192, 571)], "#999999")
leader([(40, 582), (122, 582)], "#333333")
leader([(131, 582), (135, 582)], "#333333")
leader([(74, 594), (150, 594)], "#333333")
leader([(27, 605), (217, 605), (219, 600)], "#FFB300")
leader([(139, 623), (148, 623), (157, 610)], "black")

fig.update_layout(template="none", width=W, height=H, autosize=False,
                  margin=dict(l=0, r=0, t=0, b=0, pad=0, autoexpand=False), showlegend=False,
                  paper_bgcolor="white", plot_bgcolor="rgba(0,0,0,0)", barmode="overlay", hovermode=False,
                  font=dict(family="Liberation Sans", size=11, color="black"), **layout_axes)

fig.write_html("out.html", config={"displayModeBar": False}, post_script="document.body.style.margin='0';")
